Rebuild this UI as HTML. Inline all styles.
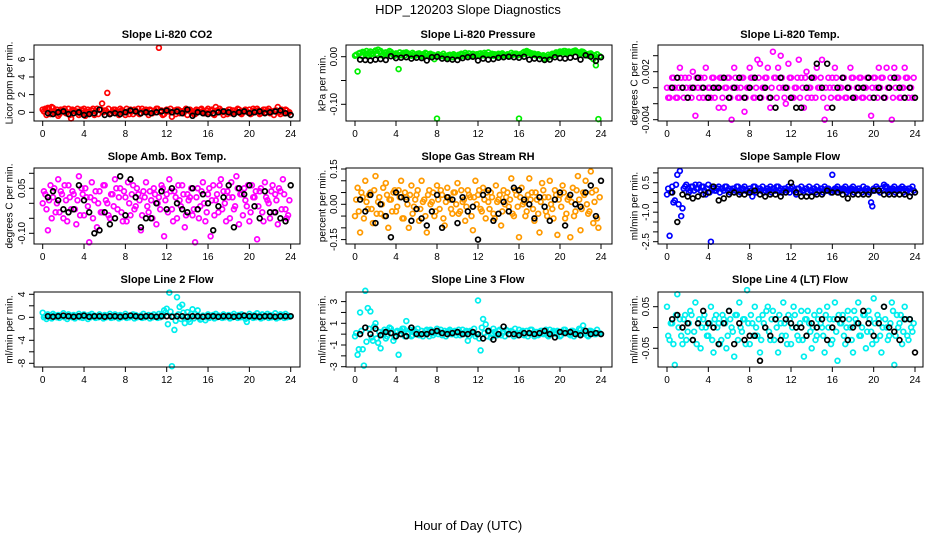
<!DOCTYPE html>
<html><head><meta charset="utf-8"><style>
body{margin:0;background:#fff;}
svg{display:block;font-family:"Liberation Sans",Arial,sans-serif;}
</style></head><body>
<svg id="chart" width="936" height="540" viewBox="0 0 936 540">
<rect width="936" height="540" fill="#fff"/>
<text x="468" y="14" font-size="13" text-anchor="middle">HDP_120203  Slope Diagnostics</text>
<text x="468" y="530" font-size="13" text-anchor="middle">Hour of Day (UTC)</text>
</svg>
<script>
const HC=[0,0.25,0.5,0.75,1,1.25,1.5,1.75,2,2.25,2.5,2.75,3,3.25,3.5,3.75,4,4.25,4.5,4.75,5,5.25,5.5,5.75,6,6.25,6.5,6.75,7,7.25,7.5,7.75,8,8.25,8.5,8.75,9,9.25,9.5,9.75,10,10.25,10.5,10.75,11,11.25,11.5,11.75,12,12.25,12.5,12.75,13,13.25,13.5,13.75,14,14.25,14.5,14.75,15,15.25,15.5,15.75,16,16.25,16.5,16.75,17,17.25,17.5,17.75,18,18.25,18.5,18.75,19,19.25,19.5,19.75,20,20.25,20.5,20.75,21,21.25,21.5,21.75,22,22.25,22.5,22.75,23,23.25,23.5,23.75];
const HC2=[0.12,0.37,0.62,0.87,1.12,1.37,1.62,1.87,2.12,2.37,2.62,2.87,3.12,3.37,3.62,3.87,4.12,4.37,4.62,4.87,5.12,5.37,5.62,5.87,6.12,6.37,6.62,6.87,7.12,7.37,7.62,7.87,8.12,8.37,8.62,8.87,9.12,9.37,9.62,9.87,10.12,10.37,10.62,10.87,11.12,11.37,11.62,11.87,12.12,12.37,12.62,12.87,13.12,13.37,13.62,13.87,14.12,14.37,14.62,14.87,15.12,15.37,15.62,15.87,16.12,16.37,16.62,16.87,17.12,17.37,17.62,17.87,18.12,18.37,18.62,18.87,19.12,19.37,19.62,19.87,20.12,20.37,20.62,20.87,21.12,21.37,21.62,21.87,22.12,22.37,22.62,22.87,23.12,23.37,23.62,23.87];
const HB=[0.5,1,1.5,2,2.5,3,3.5,4,4.5,5,5.5,6,6.5,7,7.5,8,8.5,9,9.5,10,10.5,11,11.5,12,12.5,13,13.5,14,14.5,15,15.5,16,16.5,17,17.5,18,18.5,19,19.5,20,20.5,21,21.5,22,22.5,23,23.5,24];
const xTicks=[0,4,8,12,16,20,24];

const co2C=[0.3,0.4,0.5,-0.2,0.5,0.1,-0.4,0.3,0.2,-0.1,0.4,-0.7,0.2,0.1,-0.3,0.3,0.4,-0.2,0.1,0.2,-0.3,0.4,0.3,1.0,0.2,2.2,-0.2,0.1,0.3,-0.1,0.4,0.2,-0.3,0.1,0.3,-0.2,0.2,0.4,-0.1,0.1,0.3,-0.3,0.2,0.1,0.4,7.3,0.2,-0.2,0.3,0.1,-0.5,0.2,0.3,-0.1,0.1,0.2,-0.3,0.3,0.1,-0.2,0.2,0.3,0.1,-0.1,0.4,0.2,-0.2,0.6,0.1,0.2,-0.3,0.1,0.3,-0.1,0.2,0.1,0.3,-0.2,0.2,0.1,0.3,-0.1,0.2,0.4,-0.2,0.1,0.3,0.2,-0.1,0.1,0.2,0.6,-0.2,0.1,0.3,-0.1];
const co2C2=[0.1,-0.3,0.4,0.6,0.0,0.3,-0.2,0.2,0.4,0.0,-0.3,0.3,0.1,0.4,-0.1,0.2,-0.4,0.3,0.0,0.4,0.1,-0.2,0.3,0.0,0.2,0.4,-0.1,0.3,0.1,-0.3,0.2,0.0,0.4,-0.2,0.1,0.3,0.0,-0.2,0.4,0.2,0.0,0.3,-0.1,0.2,0.4,0.0,-0.3,0.2,0.1,0.4,0.0,-0.2,0.3,0.1,-0.1,0.4,0.2,0.0,-0.2,0.3,0.1,0.4,-0.1,0.2,0.0,0.3,-0.3,0.2,0.4,0.0,0.1,-0.2,0.3,0.2,0.0,0.4,-0.1,0.1,0.3,0.0,-0.2,0.4,0.1,0.2,-0.1,0.3,0.0,0.4,0.1,-0.3,0.2,0.0,0.3,-0.1,0.2,0.0];
const co2B=[-0.1,-0.2,0.0,0.1,-0.2,-0.1,0.0,-0.3,-0.2,-0.1,0.3,-0.3,-0.2,-0.1,-0.2,0.0,0.2,0.1,-0.1,0.0,-0.1,0.0,0.1,0.2,0.0,0.1,-0.1,0.3,-0.4,0.0,-0.1,-0.2,-0.1,0.0,0.1,0.0,-0.2,0.0,0.1,-0.1,0.0,0.1,-0.1,0.0,0.1,0.2,-0.1,-0.3];
const presC=[0.002,-0.031,0.008,0.010,0.006,0.004,0.011,0.007,0.013,0.015,0.012,0.005,0.009,0.006,0.010,0.004,0.007,-0.026,0.003,0.008,0.009,0.006,0.002,0.005,0.004,0.007,0.001,0.003,0.006,0.004,0.002,-0.005,-0.130,0.003,0.001,0.002,-0.002,0.004,-0.001,0.003,0.002,0.000,0.005,0.008,0.003,0.001,0.006,0.004,0.002,0.007,0.003,0.005,0.009,0.004,0.002,0.003,0.006,0.001,0.004,0.002,0.003,0.008,0.005,0.006,-0.130,0.004,0.010,0.012,0.009,0.007,0.006,0.004,0.003,0.002,-0.004,-0.003,0.001,0.006,0.004,0.007,0.011,0.009,0.012,0.010,0.008,0.011,0.013,0.009,0.006,0.010,0.004,0.002,0.007,-0.005,-0.018,-0.131];
const presC2=[0.004,0.007,0.002,0.009,0.012,0.008,0.005,0.010,0.006,0.011,0.003,0.008,0.004,0.012,0.007,0.002,0.005,0.009,0.006,0.003,0.007,0.004,0.008,0.002,0.006,0.003,0.005,0.008,0.002,0.006,0.004,0.001,0.005,0.003,0.006,0.000,0.003,0.002,0.005,0.001,0.004,0.006,0.002,0.004,0.007,0.003,0.002,0.005,0.006,0.003,0.008,0.004,0.003,0.006,0.005,0.002,0.004,0.007,0.003,0.005,0.001,0.004,0.006,0.003,0.005,0.008,0.006,0.010,0.007,0.004,0.003,0.005,0.001,0.003,0.000,0.004,0.003,0.005,0.009,0.006,0.010,0.012,0.008,0.011,0.009,0.012,0.010,0.007,0.011,0.008,0.005,0.006,0.004,0.003,0.005,0.001];
const presB=[-0.006,-0.007,-0.008,-0.006,-0.005,-0.007,0.001,-0.003,-0.002,-0.001,-0.004,-0.002,-0.003,-0.008,-0.001,0.000,-0.004,-0.005,-0.006,-0.007,-0.003,-0.001,0.000,-0.008,-0.004,-0.006,-0.005,-0.002,-0.001,0.000,-0.001,-0.002,0.000,-0.006,-0.004,-0.005,-0.007,-0.006,-0.001,-0.003,-0.004,-0.002,0.000,-0.006,0.003,0.000,-0.009,-0.001];
const tempC=[0,-0.00125,0.00125,0,-0.00125,0.0025,0,0.00125,-0.00125,0,0.002,-0.0035,0,0.00125,-0.00125,0.0025,0,-0.00125,0.00125,0,-0.0025,0.00125,-0.0025,0,0.00125,-0.004,0.0025,0,-0.00125,0.00125,-0.003,0,0.0025,0.00125,-0.00125,0.0035,0.003,0,0.00125,0.0025,-0.0025,0.0045,0.00125,0.0025,0.004,0,-0.002,0.003,0.00125,-0.00125,0,0.0035,0.00125,-0.0025,0.002,0,-0.00125,0.00125,0.0025,0,0.0035,-0.004,-0.0025,0,0.00125,0.0025,-0.00125,0,0.00125,-0.00125,0,0.0025,0.00125,-0.00125,0,0.00125,-0.00125,0,0.00125,-0.0035,0.00125,0,0.0025,0.00125,-0.00125,0.0025,0,-0.004,0.0025,0.00125,-0.00125,0,0.0025,0.00125,0,-0.00125];
const tempC2=[-0.00125,0,0.00125,-0.00125,0,0.00125,-0.00125,0,0.00125,-0.00125,0,0.00125,-0.00125,0,0.00125,-0.00125,0,0.00125,-0.00125,0,0.00125,-0.00125,0,0.00125,-0.00125,0,0.00125,-0.00125,0,0.00125,-0.00125,0,0.00125,-0.00125,0,0.00125,-0.00125,0,0.00125,-0.00125,0,0.00125,-0.00125,0,0.00125,-0.00125,0,0.00125,-0.00125,0,0.00125,-0.00125,0,0.00125,-0.00125,0,0.00125,-0.00125,0,0.00125,-0.00125,0,0.00125,-0.00125,0,0.00125,-0.00125,0,0.00125,-0.00125,0,0.00125,-0.00125,0,0.00125,-0.00125,0,0.00125,-0.00125,0,0.00125,-0.00125,0,0.00125,-0.00125,0,0.00125,-0.00125,0,0.00125,-0.00125,0,0.00125,-0.00125,0,0.00125];
const tempB=[0,0.00125,0,-0.00125,0,0.00125,0,-0.00125,0,0,0.00125,-0.00125,0,0.00125,-0.00125,0,0.00125,-0.00125,0,-0.00125,-0.0025,0.00125,0,-0.00125,-0.0025,-0.0025,0,0.00125,0.003,0,0.003,-0.0025,0,0.00125,0,-0.00125,0,0,0.00125,-0.00125,0,-0.00125,0,0.00125,0,-0.00125,0,-0.00125];
const ambC=[0.00,0.03,-0.09,0.06,0.02,-0.03,0.08,0.04,-0.05,0.01,0.06,-0.02,0.03,-0.07,0.09,0.05,-0.04,0.02,-0.13,0.07,0.01,-0.08,0.04,-0.03,0.06,0.00,-0.05,0.03,0.08,-0.02,0.05,-0.06,0.02,0.07,-0.04,0.06,-0.01,0.03,-0.09,0.04,0.07,-0.03,0.01,0.05,-0.07,0.02,0.06,-0.11,0.03,0.08,-0.02,0.04,-0.05,0.01,0.06,-0.08,0.03,0.02,-0.04,-0.13,0.05,-0.01,0.07,-0.06,0.03,-0.11,0.06,0.01,-0.03,0.08,0.04,-0.06,0.02,0.07,-0.02,0.09,-0.07,0.03,0.05,-0.01,-0.06,0.06,0.02,-0.12,0.04,-0.03,0.07,0.01,-0.05,0.06,0.03,-0.07,0.04,0.08,-0.02,-0.04];
const ambC2=[0.04,-0.02,0.01,-0.05,0.05,0.00,-0.03,0.03,0.06,-0.06,0.02,0.04,-0.02,0.01,-0.04,0.03,0.05,-0.01,0.02,-0.05,0.04,0.00,-0.03,0.06,0.01,-0.04,0.03,-0.01,0.05,0.02,-0.03,0.04,-0.06,0.00,0.03,-0.02,0.05,0.01,-0.04,0.02,-0.01,0.04,-0.05,0.03,0.00,-0.02,0.05,0.01,-0.03,0.04,-0.06,0.02,0.06,-0.01,0.03,-0.04,0.01,0.05,-0.02,0.02,-0.05,0.04,0.00,-0.03,0.05,0.01,-0.04,0.03,0.06,-0.02,0.00,0.04,-0.05,0.02,-0.01,0.05,0.03,-0.04,0.01,0.06,-0.03,0.02,0.04,-0.01,0.05,-0.06,0.02,0.00,0.04,-0.03,0.01,0.05,-0.02,0.03,-0.05,0.01];
const ambB=[0.02,0.04,0.01,-0.02,-0.03,-0.02,0.06,0.01,-0.03,-0.10,-0.09,-0.03,-0.07,-0.05,0.09,-0.04,0.08,0.02,-0.08,-0.05,-0.05,0.00,0.04,-0.02,0.05,0.00,-0.02,-0.03,0.05,-0.02,0.03,0.00,-0.09,-0.01,0.02,0.06,-0.08,0.05,0.03,0.06,-0.01,-0.05,0.04,-0.03,-0.03,-0.05,-0.06,0.06];
const rhC=[-0.05,0.07,-0.12,0.03,0.10,-0.02,0.05,-0.08,0.12,0.01,-0.04,0.07,0.09,-0.10,0.02,0.05,-0.03,0.06,0.10,-0.06,0.03,-0.10,0.08,-0.01,0.04,-0.07,0.10,0.02,-0.12,0.06,0.01,-0.05,0.08,-0.02,0.04,-0.09,0.07,0.02,-0.04,0.05,0.09,-0.03,0.01,-0.07,0.06,0.03,-0.11,0.10,0.04,-0.02,0.07,-0.06,0.01,0.05,-0.04,0.08,0.02,-0.09,0.06,0.03,-0.01,0.11,-0.05,0.04,-0.14,0.07,0.01,-0.03,0.11,0.05,-0.07,0.02,-0.12,0.09,0.03,-0.05,0.10,-0.02,0.06,-0.13,0.04,0.08,-0.06,0.02,-0.14,0.07,-0.03,0.12,-0.11,0.05,0.10,-0.04,0.14,-0.08,0.06,-0.10];
const rhC2=[0.02,-0.03,0.05,-0.06,0.01,0.04,-0.02,0.06,-0.04,0.03,0.00,-0.05,0.04,0.02,-0.03,0.06,-0.01,0.03,-0.06,0.05,0.00,0.04,-0.04,0.02,0.06,-0.02,0.01,-0.05,0.04,0.00,0.05,-0.03,0.02,0.06,-0.06,0.01,0.03,-0.02,0.05,0.00,-0.04,0.06,0.02,-0.01,0.04,-0.05,0.03,0.00,0.06,-0.03,0.02,0.05,-0.02,0.03,-0.06,0.01,0.04,-0.03,0.00,0.05,0.02,-0.04,0.06,-0.01,0.03,0.00,-0.05,0.04,0.02,-0.02,0.05,-0.04,0.01,0.06,-0.03,0.03,0.00,-0.06,0.04,0.02,-0.01,0.05,-0.04,0.03,0.01,-0.05,0.06,0.02,-0.02,0.04,0.00,-0.03,0.05,0.01,-0.06,0.03];
const rhB=[0.02,-0.03,0.04,-0.08,0.00,-0.05,-0.14,0.05,0.03,0.02,-0.07,-0.02,-0.06,-0.09,-0.03,0.04,-0.10,0.03,0.02,-0.08,0.03,-0.03,-0.01,-0.15,0.04,0.06,-0.07,-0.04,0.01,-0.03,0.07,0.06,0.02,0.00,-0.06,0.03,-0.01,-0.07,0.02,0.05,-0.09,0.04,0.00,-0.01,0.05,0.08,-0.05,0.10];
const sampC=[-0.1,-2.2,0.3,-0.4,0.9,1.1,-0.8,0.3,0.2,0.1,0.3,0.4,0.2,0.1,0.3,-0.1,0.4,-2.5,0.2,0.1,0.3,0.2,0.1,0.3,0.2,0.1,0.2,0.3,0.1,0.2,0.3,0.1,0.2,-0.2,0.3,0.1,0.2,0.3,0.1,0.2,0.3,0.2,0.1,0.3,0.2,0.1,0.2,0.3,0.2,0.1,-0.1,0.2,0.3,0.1,0.2,0.3,0.1,0.2,0.3,0.1,0.2,0.3,0.2,0.1,0.9,0.2,0.3,0.1,0.2,0.3,0.1,0.2,0.3,0.1,0.2,0.1,0.3,0.2,0.1,-0.5,0.2,0.3,0.1,0.2,0.4,0.3,0.1,0.2,0.3,0.1,0.2,0.3,0.2,0.1,0.2,0.3];
const sampC2=[0.2,0.0,-0.5,0.4,-0.6,-1.2,0.2,0.4,0.0,0.3,0.1,0.2,0.4,0.3,0.1,0.2,0.0,0.3,0.1,0.2,0.0,0.2,0.3,0.1,0.0,0.2,0.1,0.3,0.0,0.2,0.1,0.0,0.1,0.3,0.0,0.2,0.1,0.0,0.2,0.1,0.0,0.2,0.3,0.1,0.0,0.2,0.1,0.0,0.3,0.1,0.2,0.0,0.1,0.2,0.0,0.1,0.2,0.0,0.1,0.2,0.0,0.1,0.2,0.0,0.1,0.2,0.0,0.1,0.2,0.0,0.1,0.2,0.0,0.1,0.2,0.0,0.1,0.2,0.0,-0.7,0.1,0.2,0.0,0.1,0.3,0.0,0.1,0.2,0.0,0.1,0.2,0.0,0.1,0.2,0.0,0.1];
const sampB=[0.0,-1.5,-0.1,-0.2,-0.3,-0.2,-0.1,0.0,0.3,-0.4,-0.3,-0.1,0.0,-0.1,-0.1,0.0,0.1,-0.1,-0.2,-0.1,-0.1,-0.2,0.0,0.5,0.0,-0.2,-0.2,-0.2,-0.1,-0.1,0.1,0.0,0.0,-0.1,-0.3,-0.1,-0.1,-0.1,-0.1,0.1,0.1,-0.1,-0.1,-0.1,-0.1,-0.1,-0.2,0.0];
const l2C=[0.8,0.2,0.5,0.3,0.6,0.1,0.4,0.3,0.7,0.2,0.5,0.3,0.4,0.1,0.6,0.3,0.5,0.2,0.4,0.6,0.3,0.1,0.5,0.2,0.4,0.3,0.6,0.1,0.5,0.3,0.4,0.2,0.6,0.3,0.1,0.5,0.4,0.2,0.3,0.6,0.1,0.4,0.3,0.5,0.2,0.6,0.4,1.2,1.5,4.3,-8.5,-2.2,3.5,1.8,2.2,-1.0,0.9,-0.8,1.4,0.6,1.2,-0.4,0.3,-0.5,0.5,0.2,0.4,0.6,0.3,0.1,0.5,0.2,0.4,0.3,0.6,0.2,0.4,0.5,0.3,-0.8,0.6,0.1,0.4,0.7,0.3,0.5,0.2,0.6,0.4,0.3,0.7,0.2,0.5,0.4,0.6,0.3];
const l2C2=[0.0,-0.3,0.1,-0.2,0.3,0.0,-0.1,0.2,0.0,-0.3,0.1,0.0,-0.2,0.2,0.0,-0.1,0.1,-0.3,0.0,0.2,-0.1,0.0,0.1,-0.2,0.0,0.2,-0.1,0.0,0.1,-0.2,0.0,0.1,-0.1,0.0,0.2,-0.2,0.0,0.1,-0.1,0.0,0.2,-0.2,0.0,0.1,-0.1,0.0,0.2,0.8,-1.2,1.0,0.2,-0.6,0.5,-0.3,0.8,0.0,-0.4,0.6,-0.2,0.1,0.0,-0.3,0.2,0.0,-0.1,0.1,-0.2,0.0,0.2,-0.1,0.0,0.1,-0.2,0.0,0.2,-0.1,0.0,0.1,-0.3,0.0,0.2,-0.1,0.0,0.1,-0.2,0.0,0.2,-0.1,0.0,0.1,-0.2,0.0,0.2,-0.1,0.0,0.1];
const l2B=[0.2,0.1,0.2,0.3,0.2,0.1,0.2,0.3,0.1,0.2,0.2,0.1,0.2,0.2,0.1,0.2,0.3,0.2,0.1,0.2,0.2,0.1,0.2,0.2,0.1,0.2,0.2,0.1,0.2,0.2,0.1,0.2,0.2,0.1,0.2,0.2,0.1,0.2,0.3,0.2,0.2,0.1,0.2,0.2,0.1,0.2,0.2,0.2];
const l3C=[-0.2,-1.9,2.0,-1.4,4.0,2.4,2.1,-0.6,1.0,-0.8,-1.3,0.2,-0.4,0.3,0.5,-0.6,0.2,-1.9,0.3,0.5,1.2,0.1,-0.2,0.4,0.2,-0.1,0.3,0.1,0.4,-0.2,0.3,0.1,0.5,0.2,-0.1,0.3,0.2,0.4,0.0,0.3,0.1,-0.1,0.4,0.2,-0.6,0.3,0.1,-0.2,3.1,-1.5,1.4,0.9,0.2,-0.3,0.5,0.1,0.3,-0.1,0.2,0.4,0.0,0.3,-0.2,0.1,0.4,0.2,-0.1,0.3,0.1,0.4,-0.2,0.2,0.0,0.3,0.1,-0.1,0.4,0.2,0.1,0.3,-0.2,0.2,0.4,0.1,-0.1,0.3,0.2,0.0,0.4,0.8,0.1,-0.2,0.3,0.2,0.0,0.1];
const l3C2=[0.1,-1.4,0.3,-2.9,-0.7,0.5,-0.3,0.7,-0.4,0.2,0.0,0.4,-0.2,0.6,0.1,-0.3,0.3,0.0,0.5,-0.2,0.1,0.4,-0.1,0.2,0.5,0.0,-0.2,0.3,0.1,0.4,-0.1,0.2,0.0,0.4,0.1,-0.2,0.3,0.0,0.2,-0.1,0.4,0.1,0.0,0.3,-0.2,0.2,0.5,0.0,-0.4,0.6,0.1,-0.2,0.3,0.0,0.2,-0.1,0.4,0.1,-0.2,0.3,0.0,0.2,0.5,-0.1,0.1,0.3,0.0,-0.2,0.4,0.1,0.2,-0.1,0.3,0.0,0.4,-0.2,0.1,0.3,0.0,0.2,-0.1,0.4,0.1,0.0,0.3,-0.2,0.2,0.5,0.0,0.1,-0.1,0.3,0.2,0.0,0.4,0.1];
const l3B=[0.0,0.6,0.0,0.5,-0.1,0.2,0.1,-0.2,0.0,-0.2,0.6,0.0,0.0,0.0,0.2,0.3,0.1,0.0,0.1,0.2,0.0,0.0,0.2,0.0,-0.4,0.3,-0.5,0.0,0.7,0.0,0.0,-0.1,0.1,0.1,0.0,0.1,0.3,0.0,-0.3,0.2,0.1,0.2,0.0,-0.1,0.3,0.0,0.1,0.0];
const l4C=[0.05,-0.03,0.01,-0.09,0.08,0.02,-0.04,0.03,-0.01,0.04,-0.03,0.06,0.01,-0.05,0.02,0.00,-0.02,0.05,-0.06,0.03,0.01,-0.03,0.02,-0.05,0.04,0.00,-0.07,0.03,0.06,-0.01,0.02,0.09,-0.04,0.01,0.05,-0.02,-0.06,0.03,0.00,0.05,-0.03,0.04,0.02,-0.06,0.01,0.06,-0.02,0.03,-0.04,0.05,0.00,-0.03,0.04,-0.07,0.02,0.01,-0.05,0.03,-0.02,0.04,0.00,-0.06,0.05,0.02,-0.03,0.06,-0.08,0.01,0.03,-0.04,0.04,0.00,-0.06,0.02,0.06,-0.02,0.03,-0.05,0.04,-0.01,0.07,-0.03,0.02,-0.06,0.05,0.00,-0.02,0.06,-0.09,0.03,0.01,-0.04,0.05,-0.02,0.02,-0.01];
const l4C2=[-0.02,0.01,-0.04,0.03,0.00,-0.02,0.02,-0.03,0.01,0.03,-0.01,-0.04,0.02,0.00,0.03,-0.02,0.01,-0.03,0.02,0.00,-0.04,0.03,0.01,-0.02,0.02,-0.01,0.03,-0.03,0.00,0.02,-0.04,0.01,0.03,-0.02,0.00,0.02,-0.03,0.01,0.04,-0.01,0.02,-0.03,0.00,0.03,-0.02,0.01,-0.04,0.02,0.00,0.03,-0.02,0.01,-0.03,0.02,0.04,-0.01,0.00,-0.03,0.02,0.01,-0.02,0.03,0.00,-0.04,0.02,-0.01,0.03,0.01,-0.02,0.00,0.02,-0.03,0.04,0.01,-0.02,0.00,0.03,-0.01,0.02,-0.04,0.01,0.03,-0.02,0.00,0.02,-0.03,0.01,0.04,-0.02,0.00,0.03,-0.01,0.02,-0.03,0.00,0.01];
const l4B=[0.02,0.03,0.00,0.01,-0.03,0.01,0.04,0.01,0.00,-0.04,0.01,0.04,-0.04,0.01,-0.03,-0.02,-0.02,-0.08,0.00,-0.02,0.02,-0.03,0.02,0.01,0.00,0.00,-0.02,0.01,0.00,0.02,-0.03,0.00,0.02,0.02,-0.03,0.00,0.01,0.04,0.01,-0.02,0.01,0.05,0.00,-0.01,-0.03,0.02,0.02,-0.06];

const NS='http://www.w3.org/2000/svg';
const svg=document.getElementById('chart');
function mk(tag,attrs,parent){const e=document.createElementNS(NS,tag);for(const k in attrs)e.setAttribute(k,attrs[k]);(parent||svg).appendChild(e);return e;}
const cols=[{bl:34,br:300,x0:42.7,x24:290.7,cx:167,yl:9},{bl:346,br:612,x0:355,x24:601,cx:478,yl:322},{bl:658,br:923,x0:667,x24:915,cx:790,yl:634}];
const rows=[{bt:45,bb:121,ty:137,tt:38},{bt:168,bb:244,ty:260,tt:160},{bt:292,bb:367,ty:383,tt:283}];
const panels=[
 {key:'co2',title:'Slope Li-820 CO2',ylab:'Licor ppm per min.',col:'#ff0000',c:co2C,c2:co2C2,b:co2B,v1:0,p1:112.3,v2:6,p2:59.3,ticks:[0,2,4,6],labs:['0','2','4','6']},
 {key:'pressure',title:'Slope Li-820 Pressure',ylab:'kPa per min.',col:'#00ee00',c:presC,c2:presC2,b:presB,v1:0,p1:56.7,v2:-0.1,p2:104.3,ticks:[0,-0.05,-0.1],labs:['0.00','','-0.10']},
 {key:'temp',title:'Slope Li-820 Temp.',ylab:'degrees C per min.',col:'#ff00ff',c:tempC,c2:tempC2,b:tempB,v1:0,p1:87.7,v2:0.002,p2:71.7,ticks:[0.004,0.002,0,-0.002,-0.004],labs:['','0.002','','','-0.004']},
 {key:'amb-temp',title:'Slope Amb. Box Temp.',ylab:'degrees C per min.',col:'#ff00ff',c:ambC,c2:ambC2,b:ambB,v1:0,p1:203.3,v2:0.05,p2:188.3,ticks:[0.1,0.05,0,-0.05,-0.1],labs:['','0.05','','','-0.10']},
 {key:'rh',title:'Slope Gas Stream RH',ylab:'percent per min.',col:'#ff9a00',c:rhC,c2:rhC2,b:rhB,v1:0,p1:204.3,v2:0.15,p2:169,ticks:[0.15,0.1,0.05,0,-0.05,-0.1,-0.15],labs:['0.15','','','0.00','','','-0.15']},
 {key:'sample-flow',title:'Slope Sample Flow',ylab:'ml/min per min.',col:'#0000ff',c:sampC,c2:sampC2,b:sampB,v1:0.5,p1:182.7,v2:-2.5,p2:241.7,ticks:[1,0.5,0,-0.5,-1,-1.5,-2,-2.5],labs:['','0.5','','','-1.0','','','-2.5']},
 {key:'line2',title:'Slope Line 2 Flow',ylab:'ml/min per min.',col:'#00eeee',c:l2C,c2:l2C2,b:l2B,v1:0,p1:317.3,v2:4,p2:294.3,ticks:[4,2,0,-2,-4,-6,-8],labs:['4','','0','','-4','','-8']},
 {key:'line3',title:'Slope Line 3 Flow',ylab:'ml/min per min.',col:'#00eeee',c:l3C,c2:l3C2,b:l3B,v1:1,p1:323.3,v2:-3,p2:366.7,ticks:[3,2,1,0,-1,-2,-3],labs:['3','','1','','-1','','-3']},
 {key:'line4',title:'Slope Line 4 (LT) Flow',ylab:'ml/min per min.',col:'#00eeee',c:l4C,c2:l4C2,b:l4B,v1:0.05,p1:306.7,v2:-0.05,p2:348.3,ticks:[0.05,0,-0.05],labs:['0.05','','-0.05']}
];
panels.forEach((P,i)=>{
 const C=cols[i%3],R=rows[Math.floor(i/3)];
 const g=mk('g',{});
 
 
 const xs=h=>C.x0+(C.x24-C.x0)*h/24;
 const ys=v=>P.p1+(v-P.v1)*(P.p2-P.p1)/(P.v2-P.v1);
 const t=mk('text',{x:C.cx,y:R.tt,'font-size':11,'font-weight':'bold','text-anchor':'middle'},g);
 t.textContent=P.title;
 
 
 const yl=mk('text',{x:C.yl,y:(R.bt+R.bb)/2,'font-size':10,'text-anchor':'middle',transform:`rotate(-90 ${C.yl} ${(R.bt+R.bb)/2})`,dy:'0.35em'},g);
 yl.textContent=P.ylab;
 
 
 const pg=mk('g',{fill:'none','stroke-width':1.7},g);
 
 
 const n2=Math.min(HC2.length,P.c2.length);
 for(let k=0;k<n2;k++){
  const c=mk('circle',{cx:xs(HC2[k]).toFixed(1),cy:ys(P.c2[k]).toFixed(1),r:2.4,stroke:P.col},pg);
  
  
 }
 const n=Math.min(HC.length,P.c.length);
 for(let k=0;k<n;k++){
  const c=mk('circle',{cx:xs(HC[k]).toFixed(1),cy:ys(P.c[k]).toFixed(1),r:2.4,stroke:P.col},pg);
  
  
 }
 const m=Math.min(HB.length,P.b.length);
 for(let k=0;k<m;k++){
  const c=mk('circle',{cx:xs(HB[k]).toFixed(1),cy:ys(P.b[k]).toFixed(1),r:2.4,stroke:'#000'},pg);
  
  
 }
 const bx=mk('rect',{x:C.bl,y:R.bt,width:C.br-C.bl,height:R.bb-R.bt,fill:'none',stroke:'#000','stroke-width':1},g);
 
 
 xTicks.forEach(h=>{
  const x=xs(h);
  mk('line',{x1:x,x2:x,y1:R.bb,y2:R.bb+5,stroke:'#000'},g);
  const tl=mk('text',{x:x,y:R.ty,'font-size':10,'text-anchor':'middle'},g);
  tl.textContent=h;
  
  
 });
 P.ticks.forEach((v,j)=>{
  const y=ys(v);
  mk('line',{x1:C.bl-5,x2:C.bl,y1:y,y2:y,stroke:'#000'},g);
  if(P.labs[j]){
   const lx=C.bl-9;
   const tl=mk('text',{x:lx,y:y,'font-size':10,'text-anchor':'middle',transform:`rotate(-90 ${lx} ${y})`},g);
   tl.textContent=P.labs[j];
   
   
  }
 });
});
</script>
</body></html>
